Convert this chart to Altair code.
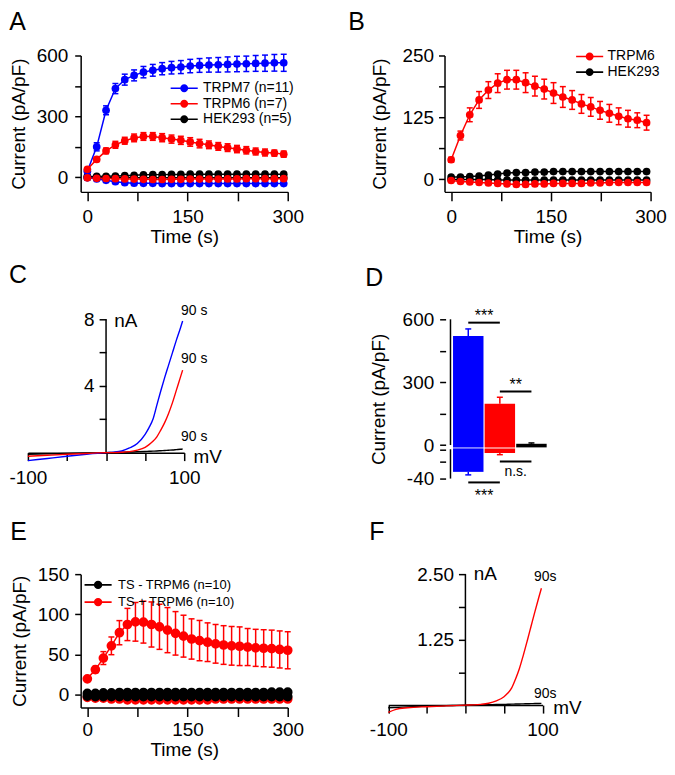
import altair as alt
import pandas as pd

FONT = "Liberation Sans"
BLUE, RED, BLACK = "#0000ff", "#ff0000", "#000000"

# ================= DATA =================
T_AB = [0, 14, 28, 42, 56, 70, 84, 98, 112, 126, 140, 154, 168, 182, 196, 210, 224, 238, 252, 266, 280, 294]
M7_OUT = [30, 150, 330, 437, 481, 502, 518, 527, 535, 540, 543, 548, 551, 553, 554, 556, 558, 559, 561, 562, 564, 564]
M7_OUT_ERR = [5, 20, 22, 25, 27, 27, 28, 29, 30, 31, 32, 33, 34, 35, 36, 37, 38, 38, 39, 40, 41, 42]
M7_IN = [-2, -8, -15, -22, -27, -29, -30, -30, -31, -31, -31, -31, -31, -31, -31, -31, -31, -31, -31, -31, -31, -31]
M7_IN_ERR = [1, 2, 3, 3, 4, 4, 4, 4, 4, 4, 4, 4, 4, 4, 4, 4, 4, 4, 4, 4, 4, 4]
M6_OUT = [39, 88, 130, 160, 180, 194, 201, 201, 195, 188, 182, 174, 166, 160, 152, 146, 139, 133, 127, 122, 119, 114]
M6_OUT_ERR = [5, 9, 14, 17, 17, 19, 19, 19, 20, 20, 20, 21, 21, 19, 19, 19, 18, 18, 17, 17, 15, 15]
M6_IN = [-3, -5, -6, -7, -8, -9, -10, -11, -11, -10, -10, -9, -9, -9, -9, -8, -8, -7, -7, -7, -7, -7]
M6_IN_ERR = [1, 1, 1, 1, 1, 2, 2, 2, 2, 2, 2, 2, 2, 2, 2, 2, 2, 2, 2, 2, 2, 2]
HEK_OUT = [4, 4, 5, 6, 8, 10, 12, 13, 13, 14, 14, 15, 15, 15, 15, 15, 15, 15, 15, 15, 15, 15]
HEK_OUT_ERR = [1, 1, 1, 1, 1, 2, 2, 2, 2, 2, 2, 2, 2, 2, 2, 2, 2, 2, 2, 2, 2, 2]
HEK_IN = [-1, -1, -1, -1, -1, -2, -2, -2, -2, -2, -2, -2, -2, -2, -2, -2, -2, -2, -2, -2, -2, -2]
HEK_IN_ERR = [1, 1, 1, 1, 1, 1, 1, 1, 1, 1, 1, 1, 1, 1, 1, 1, 1, 1, 1, 1, 1, 1]

A_NAMES = ["TRPM7 (n=11)", "TRPM6 (n=7)", "HEK293 (n=5)"]
B_NAMES = ["TRPM6", "HEK293"]

T_E = [0, 12, 24, 36, 48, 60, 72, 84, 96, 108, 120, 132, 144, 156, 168, 180, 192, 204, 216, 228, 240, 252, 264, 276, 288, 300]
TSP_OUT = [20, 31.5, 45.8, 61, 77.3, 87.5, 90.8, 90.4, 87.5, 84.6, 80.5, 76.5, 73, 69.5, 67.5, 65.5, 63.5, 62, 61, 60.5, 59.5, 58.5, 58, 57.5, 56.5, 55.5]
TSP_OUT_ERR = [1.5, 4, 8, 11, 15, 20, 24, 26, 28, 28, 28, 27, 26, 25, 25, 24, 24, 24, 24, 24, 23, 23, 23, 23, 23, 23]
TSP_IN = [-3, -4, -4, -5, -5, -6, -6, -6, -6, -6, -6, -6, -6, -6, -6, -6, -5, -5, -5, -5, -5, -5, -5, -5, -5, -5]
TSP_IN_ERR = [1, 1, 1, 1, 1, 1, 1, 1, 1, 1, 1, 1, 1, 1, 1, 1, 1, 1, 1, 1, 1, 1, 1, 1, 1, 1]
TSM_OUT = [2, 2, 2.5, 2.5, 3, 3, 3, 3, 3, 3, 3, 3, 3, 3, 3, 3, 3, 3, 3, 3, 3, 3, 3, 3.5, 3.5, 3.5]
TSM_OUT_ERR = [1, 1, 1, 1, 1, 1, 1, 1, 1, 1, 1, 1, 1, 1, 1, 1, 1, 1, 1, 1, 1, 1, 1, 1, 1, 1]
TSM_IN = [-1.5, -2, -2, -2, -2, -2, -2, -2, -2, -2, -2, -2, -2, -2, -2, -2, -2, -2, -2, -2, -2, -2, -2, -2, -2, -2]
TSM_IN_ERR = [1, 1, 1, 1, 1, 1, 1, 1, 1, 1, 1, 1, 1, 1, 1, 1, 1, 1, 1, 1, 1, 1, 1, 1, 1, 1]
E_NAMES = ["TS - TRPM6 (n=10)", "TS + TRPM6 (n=10)"]

C_V = [-100, -75, -50, -25, 0, 10, 20, 30, 40, 50, 55, 60, 65, 70, 75, 80, 85, 90, 95, 98]
C_M7 = [-0.48, -0.35, -0.22, -0.1, 0, 0.03, 0.1, 0.28, 0.55, 1.1, 1.5, 2.0, 2.85, 3.7, 4.5, 5.25, 6.0, 6.75, 7.45, 7.9]
C_M6 = [-0.22, -0.16, -0.1, -0.05, 0, 0.0, 0.02, 0.06, 0.15, 0.32, 0.48, 0.68, 0.95, 1.35, 1.8, 2.35, 3.0, 3.75, 4.5, 4.95]
C_HEK = [-0.1, -0.075, -0.05, -0.025, 0, 0.01, 0.02, 0.035, 0.05, 0.07, 0.08, 0.09, 0.1, 0.115, 0.13, 0.145, 0.16, 0.18, 0.2, 0.22]
C_NAMES = ["TRPM7", "TRPM6", "HEK293"]
C_YTICKS = [2, 4, 6, 8]
C_YLABELS = ["", "4", "", "8"]
C_YAXIS_SEG = [0, 8]
C_NOTE_X = [96, 96, 96]
C_NOTE_Y = [8.5, 5.6, 0.92]
C_NOTE_TXT = ["90 s", "90 s", "90 s"]
C_UNIT_X = [10.5, 112]
C_UNIT_Y = [7.9, -0.28]
C_UNIT_TXT = ["nA", "mV"]

F_V = [-100, -90, -75, -50, -25, 0, 10, 20, 30, 40, 50, 55, 60, 65, 70, 75, 80, 85, 90, 95, 98.5]
F_M6 = [-0.14, -0.08, -0.05, -0.03, -0.015, 0, 0.005, 0.015, 0.035, 0.08, 0.16, 0.23, 0.33, 0.5, 0.7, 0.95, 1.22, 1.5, 1.78, 2.05, 2.23]
F_TS = [-0.05, -0.045, -0.035, -0.02, -0.01, 0, 0.002, 0.005, 0.008, 0.011, 0.014, 0.016, 0.018, 0.02, 0.022, 0.024, 0.026, 0.028, 0.03, 0.032, 0.033]
F_NAMES = ["TS + TRPM6", "TS - TRPM6"]
F_YTICKS = [0.625, 1.25, 1.875, 2.5]
F_YLABELS = ["", "1.25", "", "2.50"]
F_YAXIS_SEG = [0, 2.5]
F_NOTE_X = [89, 89]
F_NOTE_Y = [2.44, 0.22]
F_NOTE_TXT = ["90s", "90s"]
F_UNIT_X = [10.8, 114]
F_UNIT_Y = [2.5, -0.06]
F_UNIT_TXT = ["nA", "mV"]

IV_XTICKS = [-100, -50, 0, 50, 100]
IV_XLABELS = ["-100", "", "", "", "100"]

D_NAMES = ["TRPM7", "TRPM6", "HEK293"]
D_IDX = [1, 2, 3]
D_POS = [520, 197, 6]
D_POS_ERR = [34, 31, 4]
D_NEG = [-32, -9.4, 0]
D_NEG_ERR = [3.6, 2.1, 0]
D_TICKS = [600, 450, 300, 150, 0, -5, -20, -40]
D_TICK_LABELS = ["600", "", "300", "", "0", "", "", "-40"]
D_AXIS_LO = [0, -5]
D_AXIS_HI = [600, -40]
D_SIG_X1 = [1, 2, 2, 1]
D_SIG_X2 = [2, 3, 3, 2]
D_SIG_Y = [584, 256, -19.6, -44.6]
D_STAR_X = [1.5, 2.5, 1.5]
D_STAR_Y = [590, 264, -67]
D_STAR_TXT = ["***", "**", "***"]
D_NS_X = [2.5]
D_NS_Y = [-37]
D_NS_TXT = ["n.s."]

TIME_TICKS = [0, 75, 150, 225, 300]
TIME_LABELS = ["0", "", "150", "", "300"]

# one colour per series name, shared by every panel
SERIES = ["TRPM7 (n=11)", "TRPM6 (n=7)", "HEK293 (n=5)", "TRPM6", "HEK293", "TRPM7",
          "TS - TRPM6 (n=10)", "TS + TRPM6 (n=10)", "TS + TRPM6", "TS - TRPM6"]
SERIES_COLORS = [BLUE, RED, BLACK, RED, BLACK, BLUE, BLACK, RED, RED, BLACK]

# ================= layout constants =================
K_NEG = 4.0
BREAK_HI, BREAK_LO = -2.8, -4.0
COL2_X = 447.2          # expected page x of the right-hand column's plot origin
D_AXIS_PX = 448.3       # page x of panel D's value axis
PATH_FILLED = "M-3.4,-0.19H3.4V0.19H-3.4Z M-1,0A1,1,0,1,1,1,0A1,1,0,1,1,-1,0Z"
PATH_STROKED = ("M-3.4,0H3.4 M-0.85,0A0.85,0.85,0,1,1,0.85,0A0.85,0.85,0,1,1,-0.85,0 "
                "M-0.5,0A0.5,0.5,0,1,1,0.5,0A0.5,0.5,0,1,1,-0.5,0 "
                "M-0.15,0A0.15,0.15,0,1,1,0.15,0A0.15,0.15,0,1,1,-0.15,0")


def perm(seq, k):
    return seq[k:] + seq[:k]


FILL_SCALE = alt.Scale(domain=SERIES, range=SERIES_COLORS)
COLOR_SCALE = alt.Scale(domain=perm(SERIES, 3), range=perm(SERIES_COLORS, 3))
STROKE_SCALE = alt.Scale(domain=perm(SERIES, 6), range=perm(SERIES_COLORS, 6))


def label_expr(values, labels):
    expr = "''"
    for v, s in reversed(list(zip(values, labels))):
        if s:
            expr = f"datum.value === {v} ? '{s}' : {expr}"
    return expr


def long_table(t, groups):
    rows = []
    for name, key, mean, err in groups:
        for ti, m, e in zip(t, mean, err):
            rows.append({"grp": name, "series": name + key, "t": ti, "v": m, "lo": m - e, "hi": m + e})
    return pd.DataFrame(rows)


def legend(values, x, y, offset, rowpad, size, path, sw):
    return alt.Legend(orient="none", legendX=x, legendY=y, title=None, values=values, symbolType=path,
                      symbolSize=64, symbolStrokeWidth=sw, symbolOpacity=1, labelFontSize=size,
                      labelOffset=offset, rowPadding=rowpad, padding=0)


def time_panel(df, ydom, yticks, ylabels, w, h, point_enc, title, ylabpad, ytitlepad, xlabpad=7, xtitlepad=1):
    xs = alt.Scale(domain=[-10, 300], nice=False, zero=False)
    ys = alt.Scale(domain=ydom, nice=False, zero=False)
    xax = alt.Axis(values=TIME_TICKS, labelExpr=label_expr(TIME_TICKS, TIME_LABELS), title="Time (s)",
                   tickSize=9, labelPadding=xlabpad, titlePadding=xtitlepad)
    yax = alt.Axis(values=yticks, labelExpr=label_expr(yticks, ylabels), title="Current (pA/pF)",
                   tickSize=6, labelPadding=ylabpad, titlePadding=ytitlepad)

    def X(f):
        return alt.X(f, type="quantitative", scale=xs, axis=xax)

    def Y(f):
        return alt.Y(f, type="quantitative", scale=ys, axis=yax)

    stroke = alt.Stroke("grp:N", scale=STROKE_SCALE)
    fill = alt.Fill("grp:N", scale=FILL_SCALE)
    base = alt.Chart(df)
    line = base.mark_line(strokeWidth=1.5).encode(x=X("t"), y=Y("v"), stroke=stroke, detail="series:N")
    err = base.mark_rule(strokeWidth=1.5).encode(x=X("t"), y=Y("lo"), y2="hi:Q", stroke=stroke)
    cap_lo = base.mark_tick(orient="horizontal", size=6, thickness=1.5, opacity=1).encode(x=X("t"), y=Y("lo"), fill=fill)
    cap_hi = base.mark_tick(orient="horizontal", size=6, thickness=1.5, opacity=1).encode(x=X("t"), y=Y("hi"), fill=fill)
    pts = base.mark_circle(size=60, opacity=1).encode(x=X("t"), y=Y("v"), **point_enc)
    return alt.layer(line, err, cap_lo, cap_hi, pts).properties(width=w, height=h, title=title)


def iv_panel(curves, ydom, yticks, ylabels, seg, notes, units, w, h, title, xrange):
    xs = alt.Scale(domain=[-100, 100], range=xrange, nice=False, zero=False)
    ys = alt.Scale(domain=ydom, nice=False, zero=False)
    xoff = -(0 - ydom[0]) / (ydom[1] - ydom[0]) * h
    yoff = -(xrange[0] + xrange[1]) / 2
    xax = alt.Axis(values=IV_XTICKS, labelExpr=label_expr(IV_XTICKS, IV_XLABELS), title=None, offset=xoff,
                   tickSize=8, labelPadding=8)
    yax = alt.Axis(values=yticks, labelExpr=label_expr(yticks, ylabels), title=None, offset=yoff,
                   domain=False, tickSize=7, labelPadding=5)

    def X(f):
        return alt.X(f, type="quantitative", scale=xs, axis=xax)

    def Y(f):
        return alt.Y(f, type="quantitative", scale=ys, axis=yax)

    lines = alt.Chart(curves).mark_line(strokeWidth=1.4, interpolate="monotone").encode(
        x=X("V"), y=Y("I"), stroke=alt.Stroke("grp:N", scale=STROKE_SCALE), detail="grp:N")
    axis_line = alt.Chart(seg).mark_rule(strokeWidth=1.5, color="black").encode(x=X("x"), y=Y("y1"), y2="y2:Q")
    t_small = alt.Chart(notes).mark_text(align="left", baseline="middle", fontSize=14, font=FONT, color="black").encode(
        x=X("x"), y=Y("y"), text="label:N")
    t_big = alt.Chart(units).mark_text(align="left", baseline="middle", fontSize=19, font=FONT, color="black").encode(
        x=X("x"), y=Y("y"), text="label:N")
    return alt.layer(axis_line, lines, t_small, t_big).properties(width=w, height=h, title=title)


def tr(v):
    return v if v >= 0 else v * K_NEG


# ================= Panel A =================
df_a = long_table(T_AB, [
    (A_NAMES[2], "out", HEK_OUT, HEK_OUT_ERR), (A_NAMES[2], "in", HEK_IN, HEK_IN_ERR),
    (A_NAMES[0], "out", M7_OUT, M7_OUT_ERR), (A_NAMES[0], "in", M7_IN, M7_IN_ERR),
    (A_NAMES[1], "out", M6_OUT, M6_OUT_ERR), (A_NAMES[1], "in", M6_IN, M6_IN_ERR),
])
leg_a = legend(A_NAMES, 97, 26, 12, 1.5, 14, PATH_FILLED, 0)
A = time_panel(df_a, [-72, 600], [0, 150, 300, 450, 600], ["0", "", "300", "", "600"], 208, 137,
               {"fill": alt.Fill("grp:N", scale=FILL_SCALE, legend=leg_a)},
               alt.TitleParams("A", offset=12), 7, 8)

# ================= Panel B =================
df_b = long_table(T_AB, [
    (B_NAMES[1], "out", HEK_OUT, HEK_OUT_ERR), (B_NAMES[1], "in", HEK_IN, HEK_IN_ERR),
    (B_NAMES[0], "out", M6_OUT, M6_OUT_ERR), (B_NAMES[0], "in", M6_IN, M6_IN_ERR),
])
leg_b = legend(B_NAMES, 504.3, -6, 11, 1.7, 14, PATH_FILLED, 0)
B = time_panel(df_b, [-26, 250], [0, 62.5, 125, 187.5, 250], ["0", "", "125", "", "250"], 207, 137,
               {"color": alt.Color("grp:N", scale=COLOR_SCALE, legend=leg_b)},
               alt.TitleParams("B", offset=12, dx=-22), 5, 13)

# ================= Panel C =================
df_c = pd.DataFrame(
    [{"grp": "HEK293", "V": v, "I": i} for v, i in zip(C_V, C_HEK)]
    + [{"grp": "TRPM7", "V": v, "I": i} for v, i in zip(C_V, C_M7)]
    + [{"grp": "TRPM6", "V": v, "I": i} for v, i in zip(C_V, C_M6)]
)
C = iv_panel(df_c, [-0.6, 8], C_YTICKS, C_YLABELS,
             pd.DataFrame({"x": [0], "y1": [C_YAXIS_SEG[0]], "y2": [C_YAXIS_SEG[1]]}),
             pd.DataFrame({"x": C_NOTE_X, "y": C_NOTE_Y, "label": C_NOTE_TXT}),
             pd.DataFrame({"x": C_UNIT_X, "y": C_UNIT_Y, "label": C_UNIT_TXT}),
             104, 144, alt.TitleParams("C", offset=16), [-53, 104])

# ================= Panel D =================
D_UNIT_PX = 35.0
D_X0 = 1 - (468 - COL2_X) / D_UNIT_PX
D_XDOM = [D_X0, D_X0 + 107 / D_UNIT_PX]
D_AXIS_X = D_X0 + (D_AXIS_PX - COL2_X) / D_UNIT_PX
df_d = pd.DataFrame({"idx": D_IDX, "name": D_NAMES, "pos": D_POS, "pos_err": D_POS_ERR,
                     "neg": D_NEG, "neg_err": D_NEG_ERR})
d_xs = alt.Scale(domain=D_XDOM, nice=False, zero=False)
d_ys = alt.Scale(domain=[tr(-40), 600], nice=False, zero=False)
d_ticks_t = [tr(v) for v in D_TICKS]
d_yax = alt.Axis(values=d_ticks_t, labelExpr=label_expr(d_ticks_t, D_TICK_LABELS), title="Current (pA/pF)",
                 domain=False, tickSize=6, labelPadding=6, titlePadding=14, offset=-(D_AXIS_PX - COL2_X))


def DX(f):
    return alt.X(f, type="quantitative", scale=d_xs, axis=None)


def DY(f):
    return alt.Y(f, type="quantitative", scale=d_ys, axis=d_yax)


d_fill = alt.Fill("name:N", scale=FILL_SCALE)
d_stroke = alt.Stroke("name:N", scale=STROKE_SCALE)
d_base = alt.Chart(df_d).transform_calculate(
    pos_top="datum.pos + datum.pos_err",
    gap_hi=f"{BREAK_HI * K_NEG}",
    gap_lo=f"{BREAK_LO * K_NEG}",
    neg_t=f"datum.neg * {K_NEG}",
    neg_bot=f"(datum.neg - datum.neg_err) * {K_NEG}",
)
d_bar_pos = d_base.mark_bar(size=30.6).encode(x=DX("idx"), y=DY("pos"), y2="gap_hi:Q", fill=d_fill)
d_neg = d_base.transform_filter(f"datum.neg < {BREAK_LO}")
d_bar_neg = d_neg.mark_bar(size=30.6).encode(x=DX("idx"), y=DY("gap_lo"), y2="neg_t:Q", fill=d_fill)
d_err_pos = d_base.mark_rule(strokeWidth=1.5).encode(x=DX("idx"), y=DY("pos"), y2="pos_top:Q", stroke=d_stroke)
d_cap_pos = d_base.mark_tick(orient="horizontal", size=6, thickness=1.5, opacity=1).encode(
    x=DX("idx"), y=DY("pos_top"), fill=d_fill)
d_err_neg = d_neg.mark_rule(strokeWidth=1.5).encode(x=DX("idx"), y=DY("neg_t"), y2="neg_bot:Q", stroke=d_stroke)
d_cap_neg = d_neg.mark_tick(orient="horizontal", size=6, thickness=1.5, opacity=1).encode(
    x=DX("idx"), y=DY("neg_bot"), fill=d_fill)
d_axis = alt.Chart(pd.DataFrame({"x": [D_AXIS_X, D_AXIS_X], "lo": D_AXIS_LO, "hi": D_AXIS_HI})).transform_calculate(
    lo_t=f"datum.lo >= 0 ? datum.lo : datum.lo * {K_NEG}",
    hi_t=f"datum.hi >= 0 ? datum.hi : datum.hi * {K_NEG}",
).mark_rule(strokeWidth=1.5, color="black").encode(x=DX("x"), y=DY("lo_t"), y2="hi_t:Q")
TR_EXPR = f"datum.y >= 0 ? datum.y : datum.y * {K_NEG}"
d_sig = alt.Chart(pd.DataFrame({"x1": D_SIG_X1, "x2": D_SIG_X2, "y": D_SIG_Y})).transform_calculate(
    yt=TR_EXPR).mark_rule(strokeWidth=2, color="black").encode(x=DX("x1"), x2="x2:Q", y=DY("yt"))
d_stars = alt.Chart(pd.DataFrame({"x": D_STAR_X, "y": D_STAR_Y, "label": D_STAR_TXT})).transform_calculate(
    yt=TR_EXPR).mark_text(baseline="alphabetic", align="center", fontSize=16, font=FONT, color="black").encode(
    x=DX("x"), y=DY("yt"), text="label:N")
d_ns = alt.Chart(pd.DataFrame({"x": D_NS_X, "y": D_NS_Y, "label": D_NS_TXT})).transform_calculate(
    yt=TR_EXPR).mark_text(baseline="alphabetic", align="center", fontSize=14, font=FONT, color="black").encode(
    x=DX("x"), y=DY("yt"), text="label:N")
D = alt.layer(d_axis, d_bar_pos, d_bar_neg, d_err_pos, d_cap_pos, d_err_neg, d_cap_neg, d_sig, d_stars, d_ns).properties(
    width=107, height=160, title=alt.TitleParams("D", offset=18, dx=-4))

# ================= Panel E =================
df_e = long_table(T_E, [
    (E_NAMES[1], "out", TSP_OUT, TSP_OUT_ERR), (E_NAMES[1], "in", TSP_IN, TSP_IN_ERR),
    (E_NAMES[0], "out", TSM_OUT, TSM_OUT_ERR), (E_NAMES[0], "in", TSM_IN, TSM_IN_ERR),
])
leg_e = legend(E_NAMES, 11, 525.3, 13.5, 2.3, 13, PATH_STROKED, 1.6)
E = time_panel(df_e, [-15.6, 150], [0, 50, 100, 150], ["0", "50", "100", "150"], 208, 134,
               {"fill": alt.Fill("grp:N", scale=FILL_SCALE),
                "stroke": alt.Stroke("grp:N", scale=STROKE_SCALE, legend=leg_e)},
               alt.TitleParams("E", offset=20), 6, 8, xlabpad=4, xtitlepad=1)

# ================= Panel F =================
df_f = pd.DataFrame(
    [{"grp": "TS - TRPM6", "V": v, "I": i} for v, i in zip(F_V, F_TS)]
    + [{"grp": "TS + TRPM6", "V": v, "I": i} for v, i in zip(F_V, F_M6)]
)
F_RANGE = [390.7 - COL2_X, 545.7 - COL2_X]
F = iv_panel(df_f, [-0.16, 2.5], F_YTICKS, F_YLABELS,
             pd.DataFrame({"x": [0], "y1": [F_YAXIS_SEG[0]], "y2": [F_YAXIS_SEG[1]]}),
             pd.DataFrame({"x": F_NOTE_X, "y": F_NOTE_Y, "label": F_NOTE_TXT}),
             pd.DataFrame({"x": F_UNIT_X, "y": F_UNIT_Y, "label": F_UNIT_TXT}),
             F_RANGE[1], 140, alt.TitleParams("F", offset=20), F_RANGE)

chart = alt.concat(A, B, C, D, E, F, columns=2, align="each",
                   spacing=alt.RowColnumber(row=16, column=44.5)).properties(padding=0).configure_view(
    stroke=None
).configure_axis(
    labelFont=FONT, titleFont=FONT, labelFontSize=19, titleFontSize=19, titleFontWeight="normal",
    labelColor="black", titleColor="black", domainColor="black", tickColor="black",
    domainWidth=1.5, tickWidth=1.5, grid=False, labelOverlap=False, labelFlush=False,
).configure_title(
    font=FONT, fontSize=25, fontWeight="normal", anchor="start", frame="bounds", color="black"
).configure_legend(
    labelFont=FONT, labelColor="black"
)

chart.save("out.html", embed_options={"renderer": "svg", "actions": False})
